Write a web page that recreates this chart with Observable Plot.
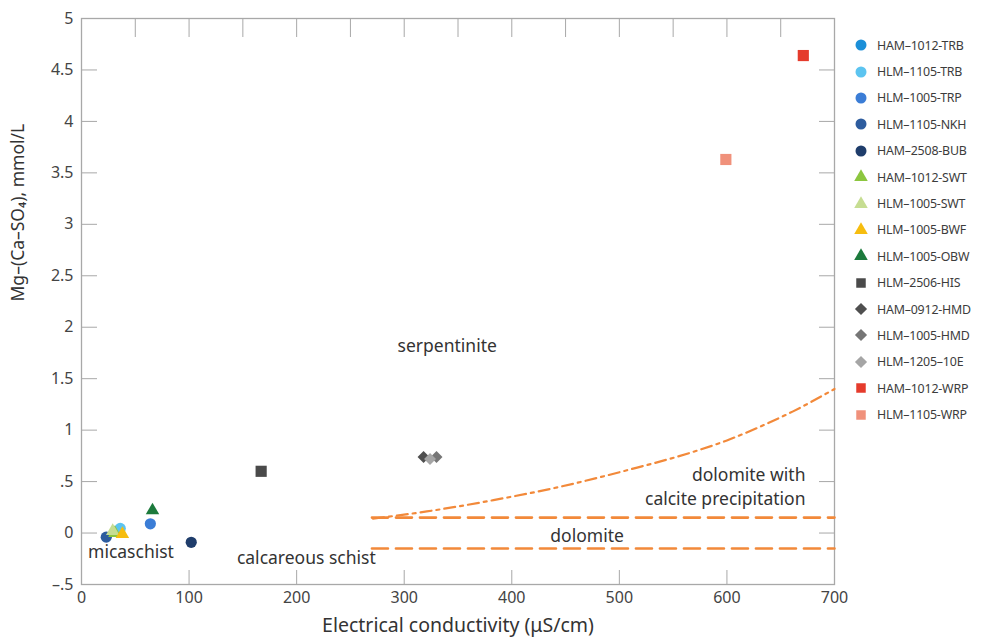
<!DOCTYPE html>
<html><head><meta charset="utf-8">
<script src="https://cdn.jsdelivr.net/npm/d3@7"></script>
<script src="https://cdn.jsdelivr.net/npm/@observablehq/plot@0.6"></script>
<style>
body{margin:0;background:#fff;font-family:"Noto Sans",sans-serif}
#wrap{position:relative;width:1000px;height:642px;overflow:hidden}
#legend{position:absolute;left:852px;top:32px;font-size:12.4px;color:#3c3c3c;letter-spacing:-0.2px}
.row{display:flex;align-items:center;height:26.4px;white-space:nowrap}
.row svg{margin-right:7px;flex:none}
</style></head><body><div id="wrap"><div id="chart"></div><div id="legend"></div></div>
<script>
// ---- data ----
const samples = ["HAM–1012-TRB","HLM–1105-TRB","HLM–1005-TRP","HLM–1105-NKH","HAM–2508-BUB",
  "HAM–1012-SWT","HLM–1005-SWT","HLM–1005-BWF","HLM–1005-OBW","HLM–2506-HIS",
  "HAM–0912-HMD","HLM–1005-HMD","HLM–1205–10E","HAM–1012-WRP","HLM–1105-WRP"];
const ec = [33, 36, 64, 23, 102, 31, 29, 38, 66, 167, 318, 330, 324, 671, 599];
const mg = [0.02, 0.045, 0.09, -0.04, -0.09, 0.0, 0.02, -0.01, 0.22, 0.60, 0.74, 0.74, 0.72, 4.64, 3.63];
const sampleShapes = ["circle","circle","circle","circle","circle",
  "triangle","triangle","triangle","triangle","square",
  "diamond2","diamond2","diamond2","square","square"];
const sampleColors = ["#1b8fd8","#5cc4f0","#3b7dd6","#2d5c9e","#1f3d6b",
  "#8cc63f","#c6dd92","#f6bd0f","#1c7a3c","#4a4a4a",
  "#4f4f4f","#767676","#a5a5a5","#e53b2c","#f0917b"];

// calcite-precipitation trend
const curveEC = [271, 321, 383, 445, 507, 569, 600, 630, 661, 700];
const curveMg = [0.14, 0.21, 0.32, 0.45, 0.61, 0.79, 0.90, 1.03, 1.18, 1.40];
// dolomite band limits
const bandLevels = [0.15, -0.15];
const bandFrom = 270, bandTo = 700;

// annotations
const annText = ["serpentinite","dolomite with","calcite precipitation","dolomite","micaschist","calcareous schist"];
const annX = [340, 673, 673, 470, 46, 209];
const annY = [1.81, 0.56, 0.33, -0.03, -0.19, -0.25];
const annAnchor = ["middle","end","end","middle","middle","middle"];

// axis ticks
const yTicks = [-0.5,0,0.5,1,1.5,2,2.5,3,3.5,4,4.5,5];
const xTicks = [0,100,200,300,400,500,600,700];
const xTopTicks = [0,50,100,150,200,250,300,350,400,450,500,550,600,650,700];
const xLabel = "Electrical conductivity (μS/cm)";
const yLabel = "Mg–(Ca–SO₄), mmol/L";

// ---- build ----
const pts = samples.map((s,i)=>({s, x: ec[i], y: mg[i], shape: sampleShapes[i]}));
const bandLines = bandLevels.flatMap((v,k)=>[{k, x: bandFrom, y: v},{k, x: bandTo, y: v}]);
const curve = curveEC.map((x,i)=>({x, y: curveMg[i]}));
const ann = annText.map((t,i)=>({t, x: annX[i], y: annY[i], a: annAnchor[i]}));
const fmt = d => d === 0 ? "0" : (d < 0 ? "–" : "") + String(Math.abs(d)).replace(/^0\./, ".");
const orange = "#f2893a";
const axisGray = "#a8a8a8";
const sizeFor = {circle: 5.6, triangle: 5.0, square: 6.3, diamond2: 5.4};

const shapeMarks = ["circle","triangle","square","diamond2"].map(sh =>
  Plot.dot(pts.filter(p=>p.shape===sh), {x:"x", y:"y", fill:"s", symbol:"s", r: sizeFor[sh], stroke: null}));

const chart = Plot.plot({
  width: 1000, height: 642,
  marginLeft: 81, marginRight: 166, marginTop: 18, marginBottom: 58,
  x: {domain: [0,700]},
  y: {domain: [-0.5,5]},
  color: {domain: samples, range: sampleColors},
  symbol: {domain: samples, range: sampleShapes},
  style: {fontFamily: "Noto Sans, sans-serif", color: "#444", background: "#fff"},
  marks: [
    Plot.axisY({ticks: yTicks, anchor: "left", tickSize: -16, tickPadding: 24, tickFormat: fmt,
      fontSize: 16, stroke: axisGray, label: null}),
    Plot.axisY({ticks: yTicks, anchor: "right", tickSize: -16, tickFormat: () => "", stroke: axisGray, label: null}),
    Plot.axisX({ticks: xTicks, anchor: "bottom", tickSize: -14, tickPadding: 21, tickFormat: d => String(d),
      fontSize: 16, stroke: axisGray, label: null}),
    Plot.axisX({ticks: xTopTicks, anchor: "top", tickSize: -18, tickFormat: () => "", stroke: axisGray, label: null}),
    Plot.frame({stroke: axisGray, strokeWidth: 1.3}),
    Plot.line(bandLines, {x:"x", y:"y", z:"k", stroke: orange, strokeWidth: 2.6, strokeDasharray: "16,8"}),
    Plot.line(curve, {x:"x", y:"y", stroke: orange, strokeWidth: 2.2, strokeDasharray: "11,5,3,5", curve: "monotone-x"}),
    ...shapeMarks,
    Plot.text(ann.filter(d=>d.a==="middle"), {x:"x", y:"y", text:"t", textAnchor:"middle", fontSize: 17.5, fill:"#333"}),
    Plot.text(ann.filter(d=>d.a==="end"), {x:"x", y:"y", text:"t", textAnchor:"end", fontSize: 17.5, fill:"#333"}),
    Plot.text([xLabel], {frameAnchor: "bottom", dy: 47, text: d=>d, fontSize: 19.5, fill:"#333"}),
    Plot.text([yLabel], {frameAnchor: "left", dx: -63, rotate: -90, text: d=>d, fontSize: 17.5, fill:"#333"})
  ]
});
document.getElementById("chart").appendChild(chart);

// legend
const legend = d3.select("#legend");
const symMap = {circle: d3.symbolCircle, triangle: d3.symbolTriangle, square: d3.symbolSquare, diamond2: d3.symbolDiamond2};
const legSize = {circle: 95, triangle: 80, square: 90, diamond2: 95};
samples.forEach((s,i)=>{
  const row = legend.append("div").attr("class","row");
  const svg = row.append("svg").attr("width",18).attr("height",18);
  svg.append("path").attr("transform","translate(9,9)")
    .attr("d", d3.symbol(symMap[sampleShapes[i]], legSize[sampleShapes[i]])())
    .attr("fill", sampleColors[i]);
  row.append("span").text(s);
});
</script></body></html>
